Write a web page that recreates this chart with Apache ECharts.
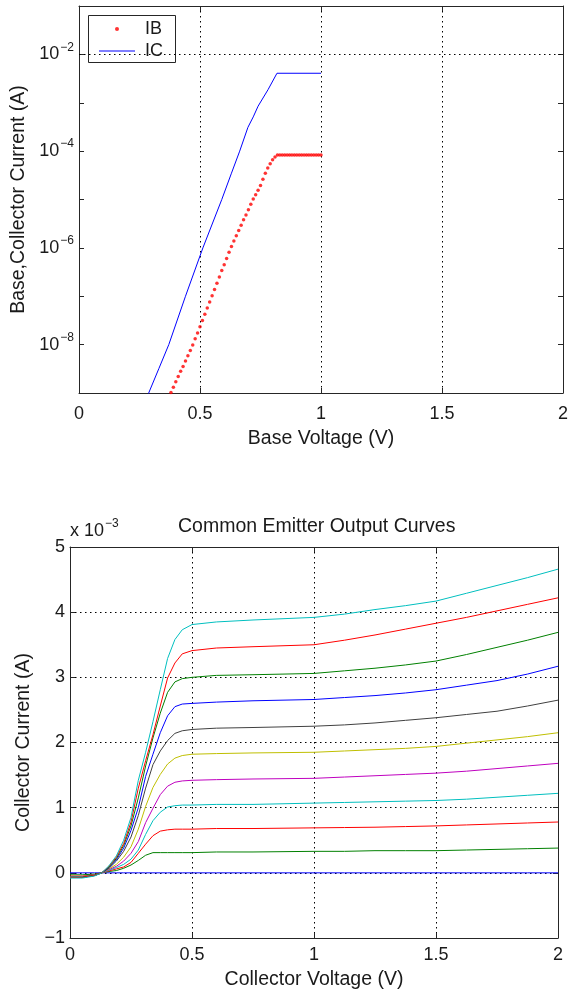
<!DOCTYPE html>
<html>
<head>
	<meta charset="utf-8"/>
	<title>BJT base sweep and output curves</title>
	<script src="https://cdn.jsdelivr.net/npm/echarts@6/dist/echarts.min.js"></script>
</head>
<body style="margin: 0; background: #fff;">

	<div id="chart" style="width: 573px; height: 992px;"></div>

	<script>
		// ---- top plot: base sweep (semilog) ----
		var ibVolts = [0.38, 0.39, 0.40, 0.41, 0.42, 0.43, 0.44, 0.45, 0.46, 0.47,
			0.48, 0.49, 0.50, 0.51, 0.52, 0.53, 0.54, 0.55, 0.56, 0.57,
			0.58, 0.59, 0.60, 0.61, 0.62, 0.63, 0.64, 0.65, 0.66, 0.67,
			0.68, 0.69, 0.70, 0.71, 0.72, 0.73, 0.74, 0.75, 0.76, 0.77,
			0.78, 0.79, 0.80, 0.81, 0.82, 0.83, 0.84, 0.85, 0.86, 0.87,
			0.88, 0.89, 0.90, 0.91, 0.92, 0.93, 0.94, 0.95, 0.96, 0.97,
			0.98, 0.99, 1.00];
		var ibAmps = [1.02e-9, 1.32e-9, 1.70e-9, 2.19e-9, 2.82e-9, 3.55e-9, 4.57e-9, 5.89e-9, 7.59e-9, 9.77e-9,
			1.32e-8, 1.74e-8, 2.34e-8, 3.16e-8, 4.27e-8, 5.75e-8, 7.59e-8, 1.02e-7, 1.38e-7, 1.86e-7,
			2.51e-7, 3.39e-7, 4.47e-7, 6.03e-7, 8.13e-7, 1.07e-6, 1.38e-6, 1.78e-6, 2.29e-6, 2.95e-6,
			3.80e-6, 4.79e-6, 6.17e-6, 7.94e-6, 1.02e-5, 1.26e-5, 1.55e-5, 1.95e-5, 2.63e-5, 3.47e-5,
			4.47e-5, 5.50e-5, 6.61e-5, 7.59e-5, 8.32e-5, 8.32e-5, 8.32e-5, 8.32e-5, 8.32e-5, 8.32e-5,
			8.32e-5, 8.32e-5, 8.32e-5, 8.32e-5, 8.32e-5, 8.32e-5, 8.32e-5, 8.32e-5, 8.32e-5, 8.32e-5,
			8.32e-5, 8.32e-5, 8.32e-5];
		var icVolts = [0.28, 0.288, 0.33, 0.371, 0.44, 0.512, 0.59, 0.63, 0.664, 0.698, 0.72, 0.74, 0.781, 0.818, 1.0];
		var icAmps = [7.9e-10, 1.0e-9, 3.2e-9, 1.0e-8, 1.0e-7, 1.0e-6, 1.0e-5, 3.5e-5, 1.0e-4, 3.1e-4, 5.1e-4, 8.5e-4, 1.86e-3, 4.07e-3, 4.07e-3];
		var logGridValues = [1e-8, 1e-6, 1e-4, 1e-2];

		// ---- bottom plot: output curves, current in units of 1e-3 A ----
		var vce = [0, 0.05, 0.1, 0.13, 0.16, 0.19, 0.22, 0.25, 0.28, 0.31, 0.34, 0.37,
			0.4, 0.43, 0.46, 0.5, 0.6, 0.75, 1.0, 1.125, 1.25, 1.375, 1.5, 1.625, 1.75, 1.875, 2.0];
		var icCurves = [
			[0, 0, 0, 0, 0, 0, 0, 0, 0, 0, 0, 0, 0, 0, 0, 0, 0, 0, 0, 0, 0, 0, 0, 0, 0, 0, 0],
			[-0.03, -0.03, -0.02, 0.0, 0.02, 0.035, 0.07, 0.12, 0.19, 0.27, 0.31, 0.31, 0.31, 0.31, 0.31, 0.31, 0.32, 0.32, 0.33, 0.33, 0.34, 0.34, 0.34, 0.35, 0.36, 0.37, 0.38],
			[-0.05, -0.05, -0.03, 0.0, 0.03, 0.06, 0.09, 0.16, 0.30, 0.44, 0.57, 0.64, 0.66, 0.67, 0.67, 0.67, 0.68, 0.68, 0.69, 0.695, 0.70, 0.71, 0.72, 0.735, 0.75, 0.765, 0.78],
			[-0.06, -0.06, -0.035, 0.0, 0.04, 0.08, 0.13, 0.21, 0.35, 0.59, 0.80, 0.93, 1.01, 1.03, 1.04, 1.04, 1.05, 1.05, 1.07, 1.08, 1.09, 1.10, 1.11, 1.13, 1.16, 1.19, 1.22],
			[-0.07, -0.07, -0.04, 0.0, 0.05, 0.10, 0.18, 0.30, 0.48, 0.77, 0.99, 1.20, 1.33, 1.39, 1.41, 1.42, 1.43, 1.44, 1.45, 1.47, 1.49, 1.51, 1.53, 1.56, 1.60, 1.64, 1.68],
			[-0.07, -0.07, -0.04, 0.0, 0.06, 0.13, 0.24, 0.40, 0.67, 1.02, 1.31, 1.51, 1.67, 1.76, 1.80, 1.82, 1.83, 1.84, 1.85, 1.87, 1.89, 1.91, 1.94, 1.99, 2.04, 2.09, 2.15],
			[-0.07, -0.07, -0.04, 0.0, 0.07, 0.18, 0.33, 0.55, 0.88, 1.30, 1.66, 1.87, 2.03, 2.14, 2.18, 2.20, 2.22, 2.23, 2.25, 2.27, 2.30, 2.34, 2.38, 2.43, 2.48, 2.56, 2.65],
			[-0.07, -0.07, -0.04, 0.0, 0.08, 0.20, 0.38, 0.65, 1.00, 1.48, 1.82, 2.15, 2.41, 2.55, 2.59, 2.60, 2.62, 2.64, 2.66, 2.69, 2.72, 2.76, 2.81, 2.88, 2.95, 3.05, 3.17],
			[-0.07, -0.07, -0.04, 0.0, 0.09, 0.22, 0.42, 0.72, 1.15, 1.64, 2.07, 2.45, 2.77, 2.93, 2.98, 3.00, 3.03, 3.04, 3.06, 3.10, 3.14, 3.19, 3.25, 3.35, 3.46, 3.57, 3.69],
			[-0.07, -0.07, -0.04, 0.0, 0.10, 0.24, 0.45, 0.78, 1.30, 1.72, 2.12, 2.56, 2.99, 3.22, 3.36, 3.41, 3.45, 3.47, 3.50, 3.57, 3.65, 3.74, 3.83, 3.92, 4.02, 4.12, 4.22],
			[-0.08, -0.08, -0.05, 0.0, 0.11, 0.26, 0.50, 0.85, 1.42, 1.85, 2.32, 2.81, 3.29, 3.58, 3.73, 3.81, 3.85, 3.88, 3.92, 3.97, 4.04, 4.10, 4.17, 4.29, 4.41, 4.53, 4.66]
		];
		// matlab's old colour order, cycling
		var curveColors = ['#0000ff', '#008000', '#ff0000', '#00bfbf', '#bf00bf', '#bfbf00', '#404040',
			'#0000ff', '#008000', '#ff0000', '#00bfbf'];

		var font = "'Liberation Sans', Arial, Helvetica, sans-serif";
		var ink = '#1a1a1a';
		var frame = '#262626';
		var dots = [1.5, 3.5];

		function pairs(xs, ys) {
			var out = [];
			for (var i = 0; i < xs.length; i++) out.push([xs[i], ys[i]]);
			return out;
		}

		function minus(v) {
			return String(v).replace('-', '\u2212');
		}

		// shared look of every axis: box line, ticks pointing inwards
		function frameAxis(extra) {
			var a = {
				axisLine: { show: true, onZero: false, lineStyle: { color: frame, width: 1 } },
				axisTick: { show: true, inside: true, length: 5, lineStyle: { color: frame, width: 1 } },
				axisLabel: { show: false },
				splitLine: { show: false },
				nameTextStyle: { fontSize: 19.5, color: ink, fontFamily: font }
			};
			for (var k in extra) a[k] = extra[k];
			return a;
		}

		var tickFont = { fontSize: 18, color: ink, fontFamily: font };

		// one legend row, placed by hand inside the framed box
		function legendRow(name, icon, w, h, left, top, gap) {
			return {
				data: [{ name: name, icon: icon }],
				left: left, top: top,
				padding: 0,
				itemWidth: w,
				itemHeight: h,
				z: 6,
				textStyle: { fontSize: 18, color: ink, fontFamily: font, padding: [0, 0, 0, gap] }
			};
		}

		var series = [
			{
				name: 'IB',
				type: 'scatter',
				xAxisIndex: 0,
				yAxisIndex: 0,
				symbol: 'circle',
				symbolSize: 3.5,
				itemStyle: { color: '#ff0000' },
				data: pairs(ibVolts, ibAmps)
			},
			{
				name: 'IC',
				type: 'line',
				xAxisIndex: 0,
				yAxisIndex: 0,
				symbol: 'none',
				lineStyle: { color: '#0000ff', width: 1 },
				itemStyle: { color: '#0000ff' },
				data: pairs(icVolts, icAmps),
				// horizontal grid at the labelled decades only
				markLine: {
					silent: true,
					symbol: ['none', 'none'],
					label: { show: false },
					lineStyle: { color: '#000', width: 1, type: dots },
					data: logGridValues.map(function (v) { return { yAxis: v }; })
				}
			}
		];

		for (var i = 0; i < icCurves.length; i++) {
			series.push({
				name: 'curve' + i,
				type: 'line',
				xAxisIndex: 2,
				yAxisIndex: 2,
				symbol: 'none',
				lineStyle: { color: curveColors[i], width: 1 },
				data: pairs(vce, icCurves[i])
			});
		}

		var option = {
			animation: false,
			title: [
				{
					text: 'Common Emitter Output Curves',
					left: 178, top: 517, padding: 0,
					textStyle: { fontSize: 19.5, fontWeight: 'normal', color: ink, fontFamily: font }
				},
				{
					text: '{a|x 10}{s|\u22123}',
					left: 70, top: 518, padding: 0,
					textStyle: {
						fontWeight: 'normal',
						rich: {
							a: { fontSize: 18, fontWeight: 'normal', color: ink, fontFamily: font, verticalAlign: 'middle' },
							s: { fontSize: 12, fontWeight: 'normal', color: ink, fontFamily: font, verticalAlign: 'middle', padding: [0, 0, 14, 1] }
						}
					}
				}
			],
			// legend frame
			graphic: [
				{
					type: 'rect',
					z: 5,
					shape: { x: 88.5, y: 15.5, width: 87, height: 47 },
					style: { fill: '#fff', stroke: frame, lineWidth: 1 }
				}
			],
			legend: [
				legendRow('IB', 'circle', 4, 4, 115, 20, 21),
				legendRow('IC', 'rect', 36, 1, 99, 42, 5)
			],
			grid: [
				{ left: 79, top: 6, width: 484, height: 387, outerBoundsMode: 'none' },
				{ left: 70, top: 547, width: 488, height: 391, outerBoundsMode: 'none' }
			],
			xAxis: [
				frameAxis({
					gridIndex: 0, type: 'value', position: 'bottom', min: 0, max: 2, interval: 0.5,
					name: 'Base Voltage (V)', nameLocation: 'middle', nameGap: 36,
					axisLabel: Object.assign({ show: true, margin: 12 }, tickFont),
					splitLine: { show: true, lineStyle: { color: '#000', width: 1, type: dots } }
				}),
				frameAxis({ gridIndex: 0, type: 'value', position: 'top', min: 0, max: 2, interval: 0.5 }),
				frameAxis({
					gridIndex: 1, type: 'value', position: 'bottom', min: 0, max: 2, interval: 0.5,
					name: 'Collector Voltage (V)', nameLocation: 'middle', nameGap: 32,
					axisLabel: Object.assign({ show: true, margin: 8 }, tickFont),
					splitLine: { show: true, lineStyle: { color: '#000', width: 1, type: dots } }
				}),
				frameAxis({ gridIndex: 1, type: 'value', position: 'top', min: 0, max: 2, interval: 0.5 })
			],
			yAxis: [
				frameAxis({
					gridIndex: 0, type: 'log', logBase: 10, position: 'left', min: 1e-9, max: 1e-1, splitNumber: 8,
					name: 'Base,Collector Current (A)', nameLocation: 'middle', nameGap: 40,
					axisLabel: {
						show: true, margin: 5,
						formatter: function (v) {
							var e = Math.round(Math.log10(v));
							if (e % 2 !== 0) return '';
							return '{b|10}{s|' + minus(e) + '}';
						},
						rich: {
							b: { fontSize: 18, color: ink, fontFamily: font, verticalAlign: 'middle' },
							s: { fontSize: 12, color: ink, fontFamily: font, verticalAlign: 'middle', padding: [0, 0, 14, 1] }
						}
					}
				}),
				frameAxis({ gridIndex: 0, type: 'log', logBase: 10, position: 'right', min: 1e-9, max: 1e-1, splitNumber: 8 }),
				frameAxis({
					gridIndex: 1, type: 'value', position: 'left', min: -1, max: 5, interval: 1,
					name: 'Collector Current (A)', nameLocation: 'middle', nameGap: 29,
					axisLabel: Object.assign({ show: true, margin: 5, formatter: minus }, tickFont),
					splitLine: { show: true, lineStyle: { color: '#000', width: 1, type: dots } }
				}),
				frameAxis({ gridIndex: 1, type: 'value', position: 'right', min: -1, max: 5, interval: 1 })
			],
			series: series
		};

		var myChart = echarts.init(document.getElementById('chart'));
		myChart.setOption(option);
	</script>
</body>
</html>
